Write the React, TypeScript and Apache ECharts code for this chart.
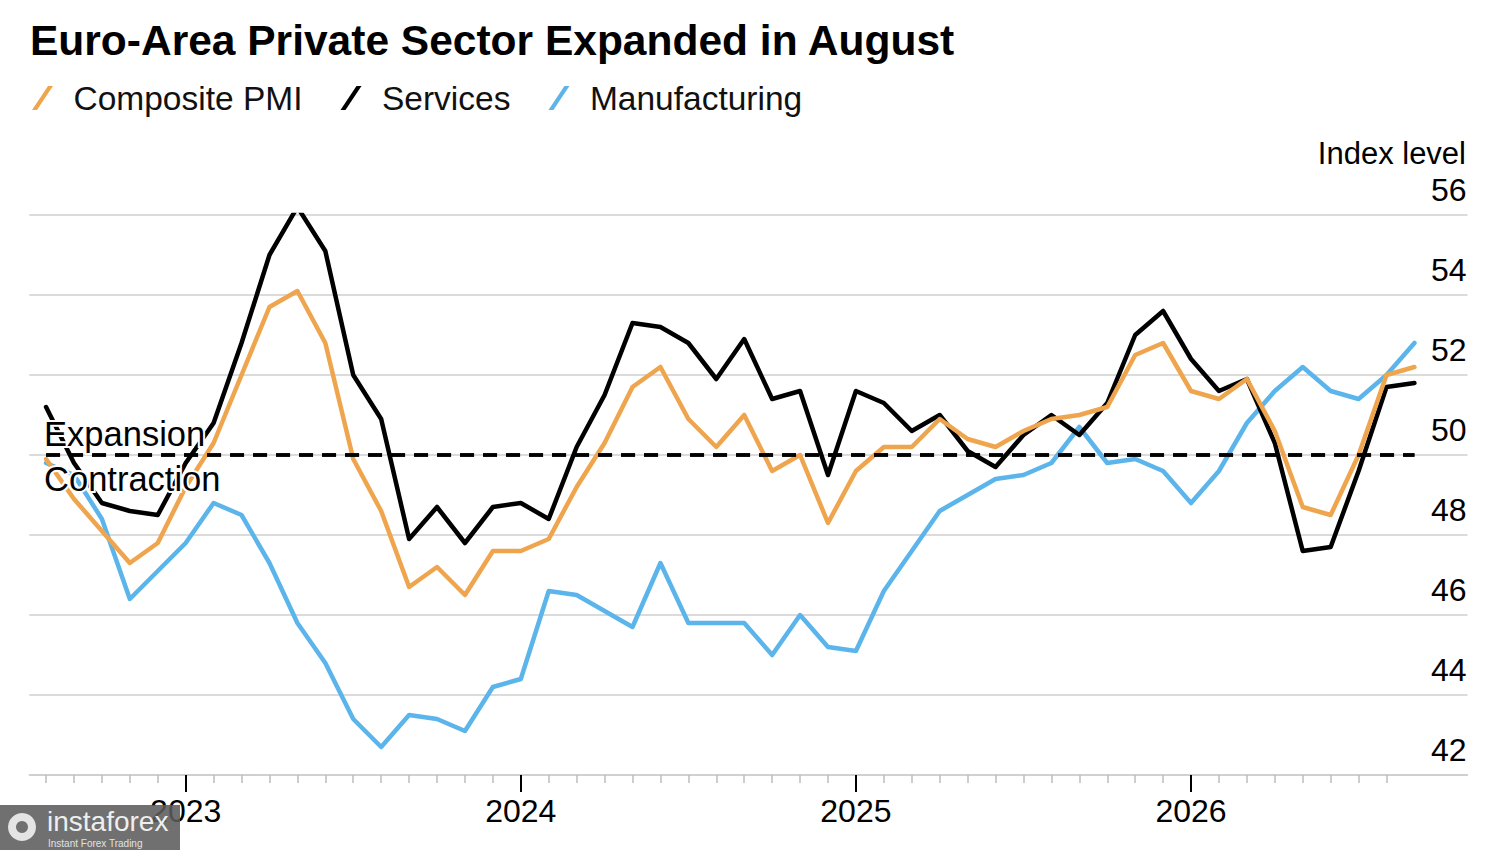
import React, { useEffect, useRef } from 'react';
import * as echarts from 'echarts';

// ---- Data ----
const seriesNames = ['Composite PMI', 'Services', 'Manufacturing'];

const composite = [
  49.9, 48.9, 48.1, 47.3, 47.8, 49.2, 50.3, 52.0, 53.7, 54.1,
  52.8, 49.9, 48.6, 46.7, 47.2, 46.5, 47.6, 47.6, 47.9, 49.2,
  50.3, 51.7, 52.2, 50.9, 50.2, 51.0, 49.6, 50.0, 48.3, 49.6,
  50.2, 50.2, 50.9, 50.4, 50.2, 50.6, 50.9, 51.0, 51.2, 52.5,
  52.8, 51.6, 51.4, 51.9, 50.6, 48.7, 48.5, 50.0, 52.0, 52.2,
];

const services = [
  51.2, 49.8, 48.8, 48.6, 48.5, 49.8, 50.8, 52.8, 55.0, 56.2,
  55.1, 52.0, 50.9, 47.9, 48.7, 47.8, 48.7, 48.8, 48.4, 50.2,
  51.5, 53.3, 53.2, 52.8, 51.9, 52.9, 51.4, 51.6, 49.5, 51.6,
  51.3, 50.6, 51.0, 50.1, 49.7, 50.5, 51.0, 50.5, 51.3, 53.0,
  53.6, 52.4, 51.6, 51.9, 50.3, 47.6, 47.7, 49.6, 51.7, 51.8,
];

const manufacturing = [
  49.8, 49.5, 48.4, 46.4, 47.1, 47.8, 48.8, 48.5, 47.3, 45.8,
  44.8, 43.4, 42.7, 43.5, 43.4, 43.1, 44.2, 44.4, 46.6, 46.5,
  46.1, 45.7, 47.3, 45.8, 45.8, 45.8, 45.0, 46.0, 45.2, 45.1,
  46.6, 47.6, 48.6, 49.0, 49.4, 49.5, 49.8, 50.7, 49.8, 49.9,
  49.6, 48.8, 49.6, 50.8, 51.6, 52.2, 51.6, 51.4, 52.0, 52.8,
];

const yearLabels = ['2023', '2024', '2025', '2026'];
const yearTickMonths = [5, 17, 29, 41];
const monthTickCount = 49; // monthly ticks at month index 0..48
const yMin = 42;
const yMax = 56;
const yInterval = 2;
const yAxisTitle = 'Index level';
const threshold = 50;
const thresholdLabels = ['Expansion', 'Contraction'];

// ---- Styles ----
const COLORS = {
  composite: '#EFA54E',
  services: '#000000',
  manufacturing: '#5BB5EB',
};
const FONT = "'Liberation Sans', Arial, Helvetica, sans-serif";

const toPoints = (values: number[]) => values.map((v, i) => [i, v]);
const monthTicks = Array.from({ length: monthTickCount }, (_, i) => i);

export default function App() {
  const ref = useRef<HTMLDivElement | null>(null);

  useEffect(() => {
    if (!ref.current) return;
    const chart = echarts.init(ref.current, undefined, { renderer: 'svg' });
    const lastIndex = composite.length - 1;

    const lineSeries = (name: string, values: number[], color: string, z: number) => ({
      name,
      type: 'line',
      data: toPoints(values),
      showSymbol: false,
      symbol: 'none',
      z,
      itemStyle: { color },
      lineStyle: { color, width: 4.5, cap: 'round', join: 'round' },
      emphasis: { disabled: true },
    });

    const compositeSeries: any = lineSeries(seriesNames[0], composite, COLORS.composite, 4);
    compositeSeries.markLine = {
      silent: true,
      symbol: ['none', 'none'],
      z: 6,
      lineStyle: { color: '#000', width: 3.5, type: [14, 9] },
      label: {
        show: true,
        fontSize: 34.5,
        color: '#000',
        fontFamily: FONT,
        textBorderColor: '#fff',
        textBorderWidth: 4,
      },
      data: [
        [
          { coord: [0, threshold], label: { formatter: thresholdLabels[0], position: 'insideStartTop', distance: [-2, 4] } },
          { coord: [lastIndex, threshold] },
        ],
        [
          { coord: [0, threshold], label: { formatter: thresholdLabels[1], position: 'insideStartBottom', distance: [-2, 6] } },
          { coord: [lastIndex, threshold] },
        ],
      ],
    };

    const option: any = {
      animation: false,
      backgroundColor: '#ffffff',
      textStyle: { fontFamily: FONT },
      title: {
        text: 'Euro-Area Private Sector Expanded in August',
        left: 30,
        top: 19,
        padding: 0,
        textStyle: { fontSize: 42.5, fontWeight: 'bold', color: '#000', fontFamily: FONT },
      },
      legend: {
        data: seriesNames,
        left: 32,
        top: 81,
        padding: 0,
        itemGap: 38,
        itemWidth: 22,
        itemHeight: 24,
        icon: 'path://M0,24 L16,0 L21,0 L5,24 Z',
        selectedMode: false,
        textStyle: { fontSize: 33.5, color: '#111', fontFamily: FONT, padding: [0, 0, 0, 15], lineHeight: 34 },
      },
      grid: {
        left: 29.3,
        right: 32.5,
        top: 215,
        bottom: 75,
        containLabel: false,
        outerBoundsMode: 'none',
      },
      xAxis: [
        {
          type: 'value',
          min: -0.6,
          max: 50.9,
          axisLine: { show: true, onZero: false, lineStyle: { color: '#cccccc', width: 1.5 } },
          axisTick: { show: true, customValues: monthTicks, length: 8, lineStyle: { color: '#bdbdbd', width: 1.5 } },
          axisLabel: { show: false },
          splitLine: { show: false },
        },
        {
          type: 'value',
          min: -0.6,
          max: 50.9,
          position: 'bottom',
          axisLine: { show: false, onZero: false },
          axisTick: { show: true, customValues: yearTickMonths, length: 17, lineStyle: { color: '#000', width: 2 } },
          axisLabel: {
            show: true,
            customValues: yearTickMonths,
            formatter: (v: number) => {
              const k = yearTickMonths.indexOf(Math.round(v));
              return k >= 0 ? yearLabels[k] : '';
            },
            fontSize: 32,
            color: '#000',
            margin: 20,
            fontFamily: FONT,
          },
          splitLine: { show: false },
        },
      ],
      yAxis: {
        type: 'value',
        position: 'right',
        min: yMin,
        max: yMax,
        interval: yInterval,
        axisLine: { show: false },
        axisTick: { show: false },
        splitLine: { show: true, lineStyle: { color: '#cfcfcf', width: 1.5 } },
        axisLabel: {
          inside: true,
          margin: 1,
          fontSize: 32,
          color: '#000',
          verticalAlign: 'bottom',
          lineHeight: 50,
          fontFamily: FONT,
        },
      },
      series: [
        lineSeries(seriesNames[2], manufacturing, COLORS.manufacturing, 2),
        lineSeries(seriesNames[1], services, COLORS.services, 3),
        compositeSeries,
      ],
      graphic: [
        {
          type: 'text', right: 34, top: 138, z: 50,
          style: { text: yAxisTitle, fill: '#000', fontSize: 31, fontFamily: FONT },
        },
        { type: 'rect', shape: { x: 0, y: 805, width: 180, height: 45 }, style: { fill: 'rgba(92,92,92,0.88)' }, z: 100 },
        { type: 'ring', shape: { cx: 22, cy: 827, r: 14, r0: 6 }, style: { fill: '#e4e4e4' }, z: 101 },
        {
          type: 'text', x: 47, y: 821, z: 101,
          style: { text: 'instaforex', fill: '#eeeeee', fontSize: 28, fontFamily: FONT, verticalAlign: 'middle' },
        },
        {
          type: 'text', x: 48, y: 843, z: 101,
          style: { text: 'Instant Forex Trading', fill: '#e2e2e2', fontSize: 10, fontFamily: FONT, verticalAlign: 'middle' },
        },
      ],
    };

    chart.setOption(option);
    return () => chart.dispose();
  }, []);

  return (
    <div
      ref={ref}
      style={{ position: 'fixed', left: 0, top: 0, width: 1500, height: 850, background: '#fff' }}
    />
  );
}
